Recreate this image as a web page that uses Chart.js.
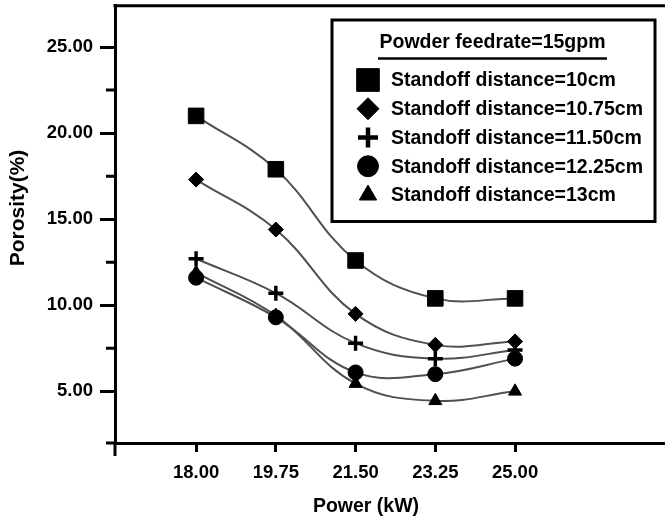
<!DOCTYPE html>
<html>
<head>
<meta charset="utf-8">
<script src="https://cdn.jsdelivr.net/npm/chart.js@4.4.1/dist/chart.umd.min.js"></script>
<style>
  html, body { margin: 0; padding: 0; background: #fff; overflow: hidden; }
  canvas { display: block; }
</style>
</head>
<body>
<!-- the plot frame runs on past the right edge of the window -->
<canvas id="chart" width="690" height="521"></canvas>
<script>
// Laser power settings (kW) and their tick labels
const powerKW = [18.00, 19.75, 21.50, 23.25, 25.00];
const xTickLabels = ['18.00', '19.75', '21.50', '23.25', '25.00'];

// Porosity axis ticks (%)
const yMajorTicks = [5, 10, 15, 20, 25];
const yMinorTicks = [7.5, 12.5, 17.5, 22.5];

const legendTitle = 'Powder feedrate=15gpm';
const seriesLabels = [
  'Standoff distance=10cm',
  'Standoff distance=10.75cm',
  'Standoff distance=11.50cm',
  'Standoff distance=12.25cm',
  'Standoff distance=13cm'
];

// Porosity (%) for each standoff distance
const porosity10cm    = [21.0, 17.9, 12.6, 10.4, 10.4];
const porosity1075cm  = [17.3, 14.4, 9.5, 7.7, 7.9];
const porosity1150cm  = [12.7, 10.7, 7.8, 6.9, 7.4];
const porosity1225cm  = [11.6, 9.3, 6.1, 6.0, 6.9];
const porosity13cm    = [11.9, 9.4, 5.45, 4.45, 5.0];

const xTitle = 'Power (kW)';
const yTitle = 'Porosity(%)';

const FONT = "'Liberation Sans', Arial, Helvetica, sans-serif";
const LINE_GREY = '#505050';

const markerStyles = [
  { pointStyle: 'rect',     radius: 11,  borderWidth: 1,   legendRadius: 16 },
  { pointStyle: 'rectRot',  radius: 7.5, borderWidth: 1,   legendRadius: 11 },
  { pointStyle: 'cross',    radius: 7.5, borderWidth: 3.5, legendRadius: 10 },
  { pointStyle: 'circle',   radius: 7.5, borderWidth: 1,   legendRadius: 10.5 },
  { pointStyle: 'triangle', radius: 7.5, borderWidth: 1,   legendRadius: 10 }
];

const seriesValues = [porosity10cm, porosity1075cm, porosity1150cm, porosity1225cm, porosity13cm];

const datasets = seriesValues.map((vals, i) => ({
  label: seriesLabels[i],
  data: powerKW.map((x, j) => ({ x: x, y: vals[j] })),
  borderColor: LINE_GREY,
  borderWidth: 2,
  tension: 0.4,
  pointStyle: markerStyles[i].pointStyle,
  pointRadius: markerStyles[i].radius,
  pointBorderWidth: markerStyles[i].borderWidth,
  pointBackgroundColor: '#000',
  pointBorderColor: '#000',
  fill: false
}));

// Frame, minor ticks, axis titles and the boxed legend
const decorations = {
  id: 'decorations',
  afterDraw(chart) {
    const ctx = chart.ctx;
    const area = chart.chartArea;
    const yScale = chart.scales.y;
    ctx.save();
    ctx.strokeStyle = '#000';
    ctx.lineWidth = 3;
    ctx.lineCap = 'butt';

    // top edge of the frame
    ctx.beginPath();
    ctx.moveTo(area.left - 1.5, area.top);
    ctx.lineTo(area.right, area.top);
    ctx.stroke();

    // minor y ticks and the axis-end ticks
    ctx.beginPath();
    yMinorTicks.forEach(v => {
      const py = yScale.getPixelForValue(v);
      ctx.moveTo(area.left - 9, py);
      ctx.lineTo(area.left, py);
    });
    ctx.moveTo(area.left - 9, area.bottom);
    ctx.lineTo(area.left, area.bottom);
    ctx.moveTo(area.left, area.bottom);
    ctx.lineTo(area.left, area.bottom + 13);
    ctx.stroke();

    // axis titles
    ctx.fillStyle = '#000';
    ctx.textAlign = 'center';
    ctx.textBaseline = 'middle';
    ctx.font = 'bold 19.5px ' + FONT;
    ctx.fillText(xTitle, 366, 507);
    ctx.save();
    ctx.translate(18, 208);
    ctx.rotate(-Math.PI / 2);
    ctx.font = 'bold 21px ' + FONT;
    ctx.fillText(yTitle, 0, 0);
    ctx.restore();

    // legend box
    const box = { left: 332, top: 20, right: 655, bottom: 221.5 };
    ctx.fillStyle = '#fff';
    ctx.fillRect(box.left, box.top, box.right - box.left, box.bottom - box.top);
    ctx.lineWidth = 3;
    ctx.strokeRect(box.left, box.top, box.right - box.left, box.bottom - box.top);

    ctx.fillStyle = '#000';
    ctx.font = 'bold 19.5px ' + FONT;
    ctx.textAlign = 'center';
    ctx.fillText(legendTitle, 492.5, 43);
    ctx.lineWidth = 2.5;
    ctx.beginPath();
    ctx.moveTo(378, 58.5);
    ctx.lineTo(607, 58.5);
    ctx.stroke();

    ctx.textAlign = 'left';
    chart.data.datasets.forEach((ds, i) => {
      const cy = 80 + i * 28.75;
      const m = markerStyles[i];
      ctx.fillStyle = '#000';
      ctx.strokeStyle = '#000';
      ctx.lineWidth = m.pointStyle === 'cross' ? 4.5 : 1;
      Chart.helpers.drawPoint(ctx, {
        pointStyle: m.pointStyle,
        radius: m.legendRadius,
        rotation: 0,
        borderWidth: ctx.lineWidth
      }, 368, cy);
      ctx.fillStyle = '#000';
      ctx.fillText(ds.label, 391, cy + 1);
    });
    ctx.restore();
  }
};

function noScalePadding(s) {
  s.paddingTop = 0;
  s.paddingBottom = 0;
  s.paddingLeft = 0;
  s.paddingRight = 0;
}

new Chart(document.getElementById('chart'), {
  type: 'line',
  data: { datasets: datasets },
  options: {
    responsive: false,
    animation: false,
    layout: { autoPadding: false, padding: { left: 0, right: 0, top: 5.7, bottom: 0 } },
    plugins: {
      legend: { display: false },
      tooltip: { enabled: false }
    },
    scales: {
      x: {
        type: 'linear',
        min: 16.22,
        max: 28.84,
        afterFit: s => { s.height = 78; noScalePadding(s); },
        afterBuildTicks: s => { s.ticks = powerKW.map(v => ({ value: v })); },
        border: { display: true, color: '#000', width: 3 },
        grid: {
          drawOnChartArea: false,
          drawTicks: true,
          tickLength: 9,
          tickWidth: 3,
          tickColor: '#000'
        },
        ticks: {
          color: '#000',
          padding: 10,
          maxRotation: 0,
          font: { family: FONT, size: 18.5, weight: 'bold' },
          callback: (v) => {
            const i = powerKW.indexOf(v);
            return i >= 0 ? xTickLabels[i] : '';
          }
        }
      },
      y: {
        type: 'linear',
        min: 2.0,
        max: 27.4,
        afterFit: s => { s.width = 115; noScalePadding(s); },
        afterBuildTicks: s => { s.ticks = yMajorTicks.map(v => ({ value: v })); },
        border: { display: true, color: '#000', width: 3 },
        grid: {
          drawOnChartArea: false,
          drawTicks: true,
          tickLength: 15,
          tickWidth: 3,
          tickColor: '#000'
        },
        ticks: {
          color: '#000',
          padding: 7,
          font: { family: FONT, size: 18.5, weight: 'bold' },
          callback: v => Number(v).toFixed(2)
        }
      }
    }
  },
  plugins: [decorations]
});
</script>
</body>
</html>
